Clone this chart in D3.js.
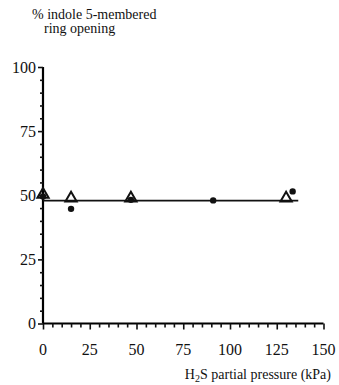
<!DOCTYPE html>
<html>
<head>
<meta charset="utf-8">
<script src="https://cdn.jsdelivr.net/npm/d3@7"></script>
<style>
  body { margin: 0; background: #fff; }
</style>
</head>
<body>
<div id="chart"></div>
<script>
// Daten
const xTicks = [0, 25, 50, 75, 100, 125, 150];
const yTicks = [0, 25, 50, 75, 100];
const triX = [0, 15, 47, 130];
const triY = [50.3, 48.8, 48.8, 48.8];
const dotX = [0, 15, 47, 91, 133.5];
const dotY = [49.5, 44.7, 48.2, 48, 51.5];
const fitX = [0, 136.5];
const fitY = [47.9, 47.9];

const width = 339, height = 385;
const serif = "'Liberation Serif', 'Times New Roman', serif";
const svg = d3.select("#chart").append("svg")
    .attr("width", width)
    .attr("height", height)
    .attr("font-family", serif);

const x = d3.scaleLinear().domain([0, 150]).range([43, 323.5]);
const y = d3.scaleLinear().domain([0, 100]).range([323.5, 67]);

// Achsen
const xAxis = svg.append("g").attr("transform", `translate(0, ${y(0)})`);
xAxis.call(d3.axisBottom(x).tickValues(d3.range(0, 151, 5)).tickSize(4).tickFormat(""));
xAxis.call(g => g.selectAll(".tick").filter(d => d % 25 === 0).select("line").attr("y2", 6));
xAxis.selectAll(".domain").attr("stroke-width", 2.2).attr("d", `M${x(0)},0H${x(150)}`);
xAxis.selectAll("line").attr("stroke", "#111").attr("stroke-width", 1.6);

const yAxis = svg.append("g").attr("transform", `translate(${x(0)}, 0)`);
yAxis.call(d3.axisLeft(y).tickValues(d3.range(0, 101, 5)).tickSize(3).tickFormat(""));
yAxis.call(g => g.selectAll(".tick").filter(d => d % 25 === 0).select("line").attr("x2", -5));
yAxis.selectAll(".domain").attr("stroke-width", 2.2).attr("d", `M0,${y(100)}V${y(0)}`);
yAxis.selectAll("line").attr("stroke", "#111").attr("stroke-width", 1.6);

// Tick-Beschriftungen
svg.selectAll(".xlab").data(xTicks).enter().append("text")
    .attr("x", d => x(d))
    .attr("y", 355)
    .attr("text-anchor", "middle")
    .attr("font-size", 16)
    .attr("fill", "#111")
    .text(d => d);

svg.selectAll(".ylab").data(yTicks).enter().append("text")
    .attr("x", 36)
    .attr("y", d => y(d) + 5.5)
    .attr("text-anchor", "end")
    .attr("font-size", 16)
    .attr("fill", "#111")
    .text(d => d);

// Titel
svg.append("text").attr("x", 32).attr("y", 19)
    .attr("font-size", 14).attr("fill", "#111")
    .text("% indole 5-membered");
svg.append("text").attr("x", 44).attr("y", 33)
    .attr("font-size", 14).attr("fill", "#111")
    .text("ring opening");
const xt = svg.append("text").attr("x", 331).attr("y", 379)
    .attr("text-anchor", "end")
    .attr("font-size", 14).attr("fill", "#111");
xt.append("tspan").text("H");
xt.append("tspan").attr("dy", 2.5).attr("font-size", 10).text("2");
xt.append("tspan").attr("dy", -2.5).text("S partial pressure (kPa)");

// Ausgleichslinie
const line = d3.line().x(d => x(d[0])).y(d => y(d[1]));
svg.append("path")
    .datum(d3.zip(fitX, fitY))
    .attr("d", line)
    .attr("fill", "none")
    .attr("stroke", "#111")
    .attr("stroke-width", 1.8);

// Dreiecke (offen)
const tri = d3.symbol().type(d3.symbolTriangle).size(55);
svg.selectAll(".tri").data(d3.zip(triX, triY)).enter().append("path")
    .attr("d", tri)
    .attr("transform", d => `translate(${x(d[0])}, ${y(d[1])})`)
    .attr("fill", "none")
    .attr("stroke", "#111")
    .attr("stroke-width", 2);

// Punkte (gefüllt)
svg.selectAll(".dot").data(d3.zip(dotX, dotY)).enter().append("circle")
    .attr("cx", d => x(d[0]))
    .attr("cy", d => y(d[1]))
    .attr("r", 3.2)
    .attr("fill", "#111");
</script>
</body>
</html>
